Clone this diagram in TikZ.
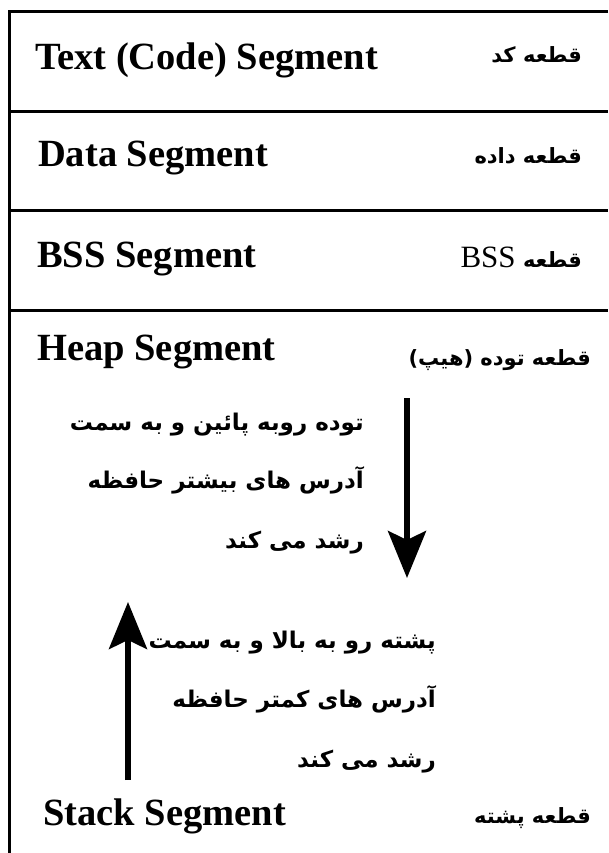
\documentclass[tikz,border=0pt]{standalone}
\usepackage{fontspec}
\setmainfont{Liberation Serif}
\newfontfamily\fafont[Script=Arabic]{DejaVu Sans}
\TeXXeTstate=1
\usetikzlibrary{arrows.meta}
\begin{document}
\begin{tikzpicture}[x=1pt,y=-1pt,
  en/.style={font=\fontsize{38.5}{40}\selectfont\bfseries, anchor=base west, inner sep=0pt},
  fa/.style={font=\fontsize{23}{26}\selectfont\fafont\bfseries, anchor=base east, inner sep=0pt},
  faseg/.style={font=\fontsize{21}{24}\selectfont\fafont\bfseries, anchor=base east, inner sep=0pt},
  segline/.style={line width=3pt},
  growarrow/.style={line width=5.5pt, -{Stealth[length=47pt,width=38pt,inset=9pt]}}
]
\useasboundingbox (0,0) rectangle (608,853);
\fill[white] (0,0) rectangle (608,853);
% frame and separators
\draw[segline] (608,12) -- (9,12) -- (9,853);
\draw[segline] (9,112) -- (608,112);
\draw[segline] (9,210) -- (608,210);
\draw[segline] (9,310) -- (608,310);
% English labels
\node[en] (text)  at (35,70)  {Text (Code) Segment};
\node[en] (data)  at (38,167) {Data Segment};
\node[en] (bss)   at (37,267) {BSS Segment};
\node[en] (heap)  at (37,360) {Heap Segment};
\node[en] (stack) at (43,825) {Stack Segment};
% Persian labels
\node[faseg] (fatext) at (582,63)  {\beginR قطعه کد\endR};
\node[faseg] (fadata) at (582,164) {\beginR قطعه داده\endR};
\node[faseg] (fabss)  at (582,267) {\beginR قطعه \beginL{\rmfamily\mdseries\fontsize{31}{34}\selectfont BSS}\endL\endR};
\node[faseg] (faheap) at (591,365) {\beginR قطعه توده (هیپ)\endR};
\node[faseg] (fastack) at (591,823) {\beginR قطعه پشته\endR};
% heap description
\node[fa] (h1) at (364,430) {\beginR توده روبه پائین و به سمت\endR};
\node[fa] (h2) at (364,488) {\beginR آدرس های بیشتر حافظه\endR};
\node[fa] (h3) at (364,548) {\beginR رشد می کند\endR};
% stack description
\node[fa] (s1) at (436,648) {\beginR پشته رو به بالا و به سمت\endR};
\node[fa] (s2) at (436,707) {\beginR آدرس های کمتر حافظه\endR};
\node[fa] (s3) at (436,767) {\beginR رشد می کند\endR};
% growth arrows
\coordinate (hstart) at (407,398);
\coordinate (hend)   at (407,578);
\coordinate (sstart) at (128,780);
\coordinate (send)   at (128,602);
\draw[growarrow] (hstart) -- (hend);
\draw[growarrow] (sstart) -- (send);
\end{tikzpicture}
\end{document}
